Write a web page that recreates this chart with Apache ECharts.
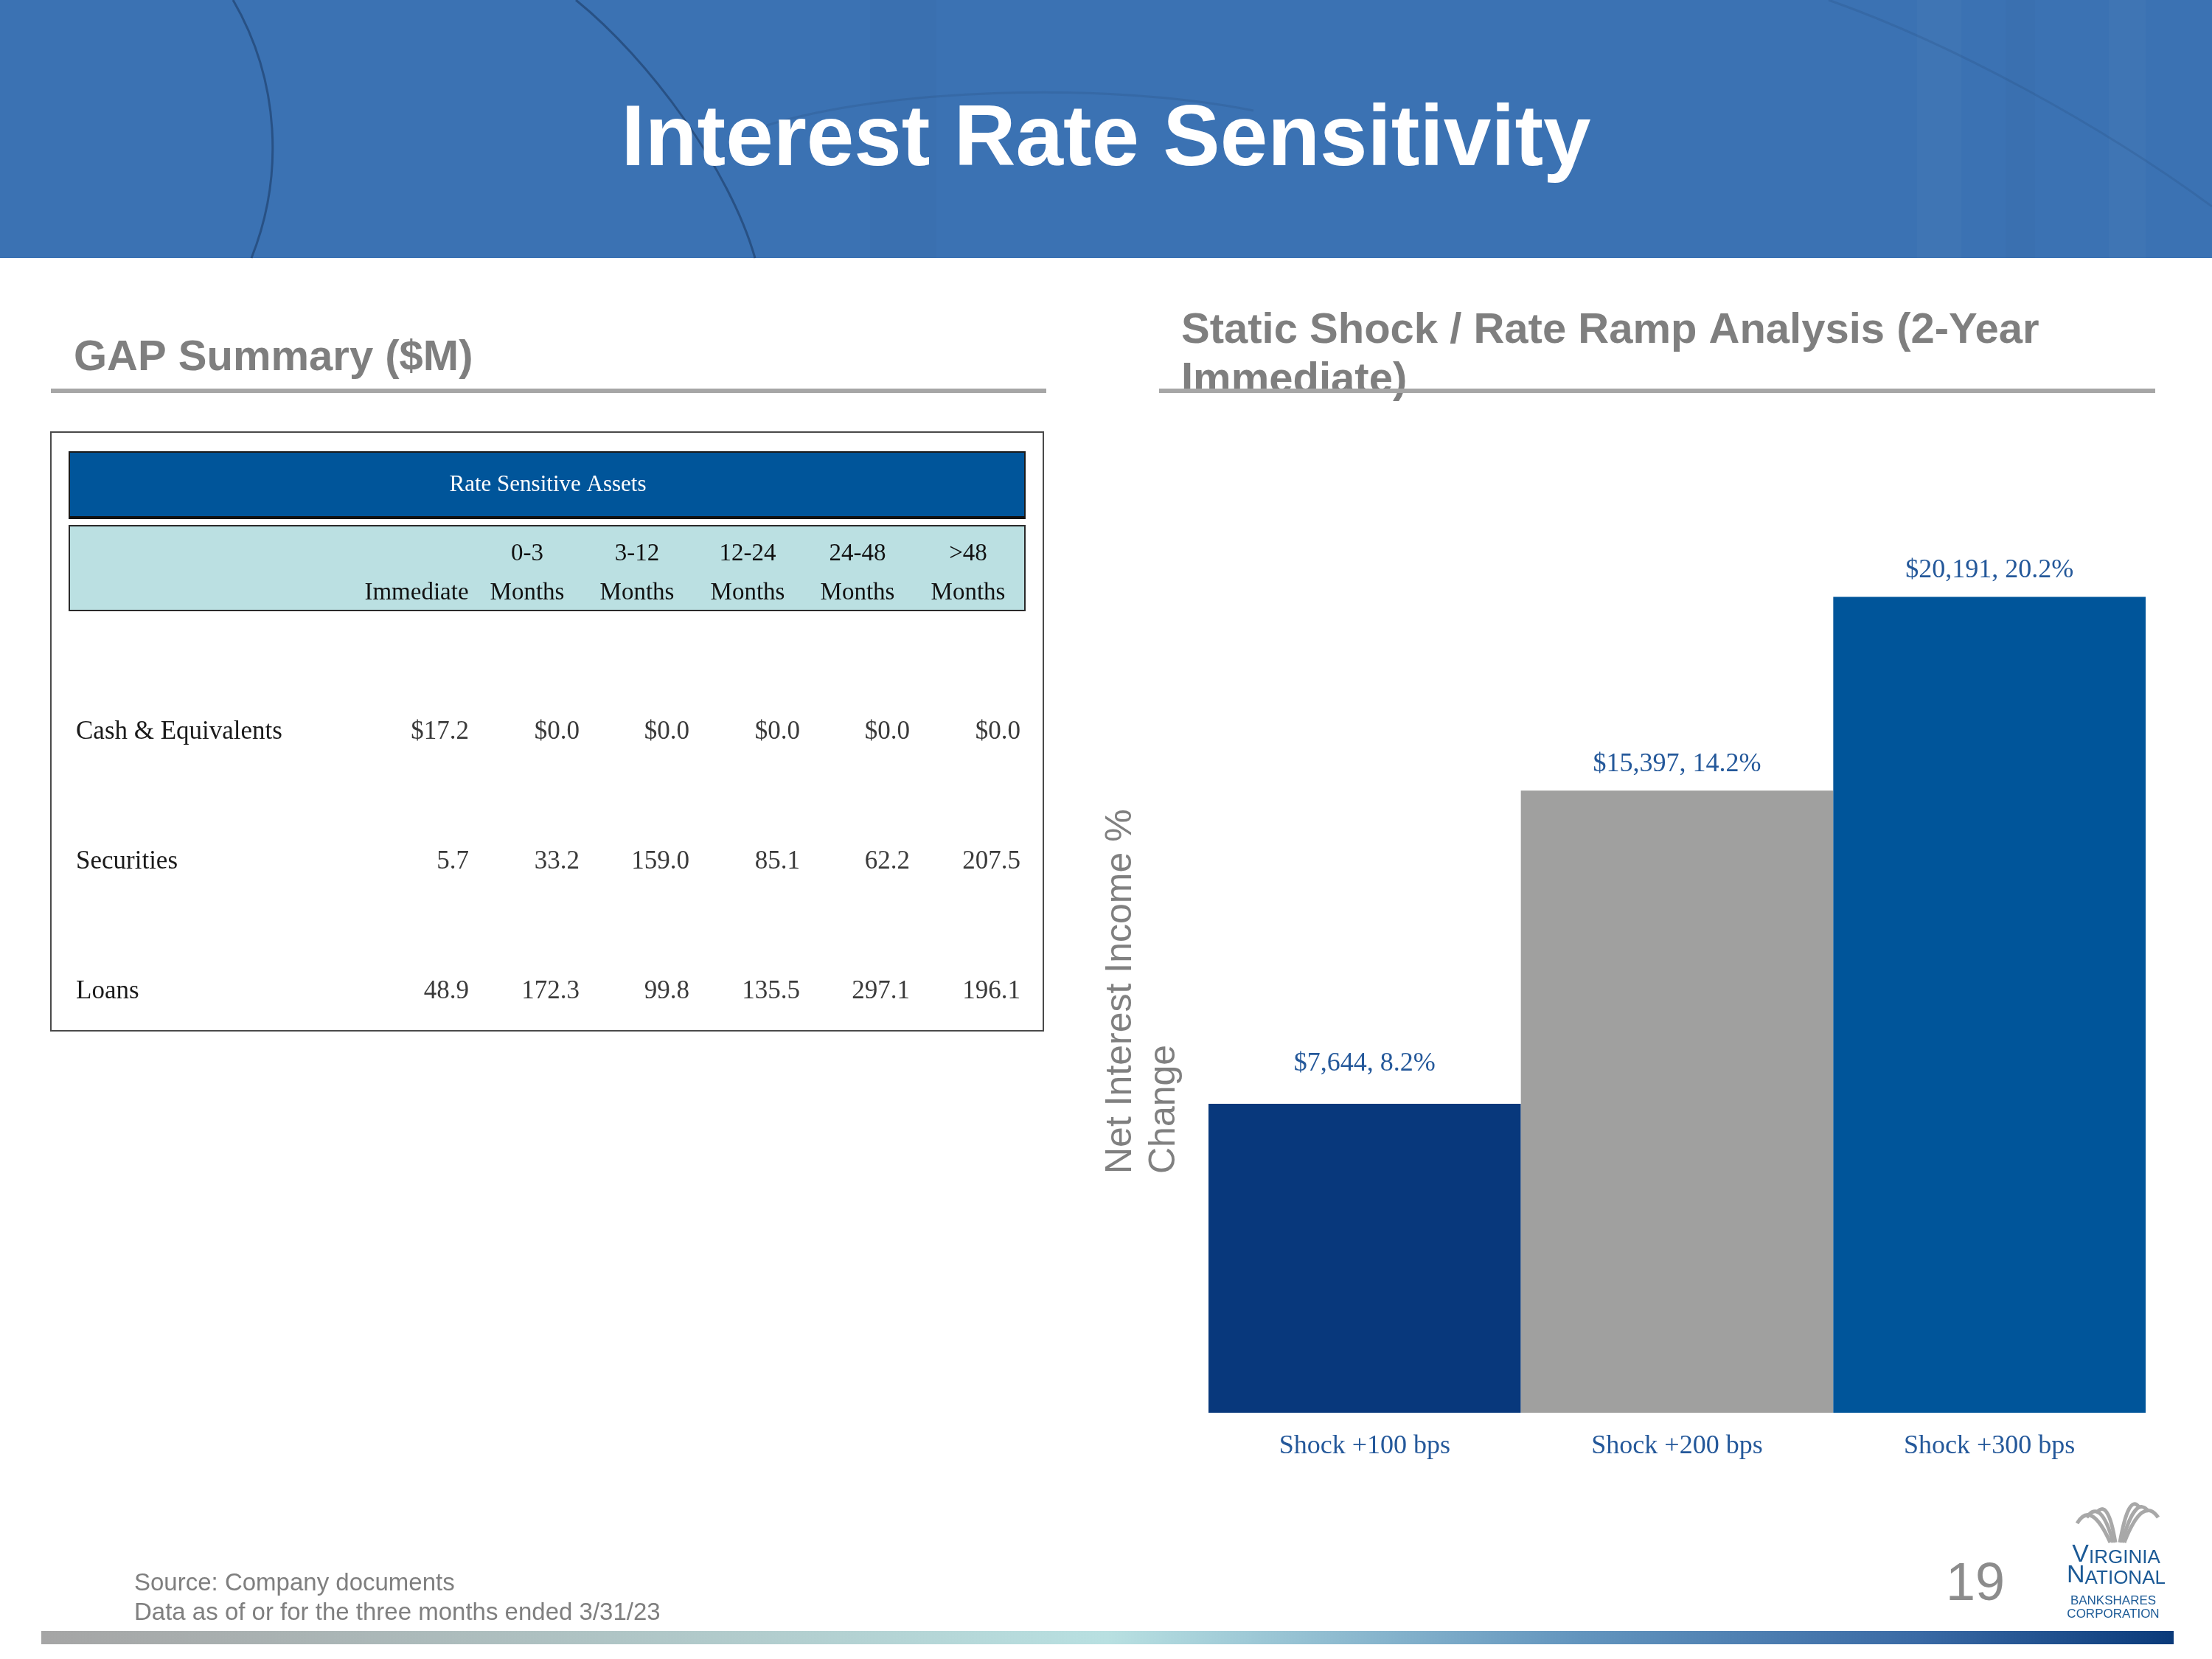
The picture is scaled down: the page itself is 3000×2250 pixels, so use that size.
<!DOCTYPE html>
<html>
<head>
<meta charset="utf-8">
<script src="https://cdn.jsdelivr.net/npm/echarts@6/dist/echarts.min.js"></script>
<style>
  html, body { margin: 0; background: #fff; }
  #chart { width: 3000px; height: 2250px; }
</style>
</head>
<body>
<div id="chart"></div>
<script>
// GAP summary ($M)
var gapTitle = 'Rate Sensitive Assets';
var bucketTop = ['', '0-3', '3-12', '12-24', '24-48', '>48'];
var bucketBottom = ['Immediate', 'Months', 'Months', 'Months', 'Months', 'Months'];
var rowNames = ['Cash & Equivalents', 'Securities', 'Loans'];
var cashValues = [17.2, 0.0, 0.0, 0.0, 0.0, 0.0];
var securitiesValues = [5.7, 33.2, 159.0, 85.1, 62.2, 207.5];
var loanValues = [48.9, 172.3, 99.8, 135.5, 297.1, 196.1];

// static shock / rate ramp
var shockNames = ['Shock +100 bps', 'Shock +200 bps', 'Shock +300 bps'];
var niiChange = [7644, 15397, 20191];
var niiChangePct = [8.2, 14.2, 20.2];

var SANS = 'Liberation Sans, Arial, sans-serif';
var SERIF = 'Liberation Serif, Times New Roman, serif';

// text placed by its baseline
function txt(x, base, s, size, color, opt) {
  opt = opt || {};
  return {
    type: 'text', x: x, y: base - 0.29 * size, z: opt.z || 10,
    style: {
      text: s, fontSize: size, fontFamily: opt.family || SANS,
      fontWeight: opt.weight || 'normal', fill: color,
      align: opt.align || 'left', verticalAlign: 'middle'
    }
  };
}

var g = [];

// header band
g.push({ type: 'rect', shape: { x: 0, y: 0, width: 3000, height: 350 }, style: { fill: '#3b72b3' }, z: 1 });
[[2600, 60], [2720, 40], [2860, 50], [1180, 90]].forEach(function (s, i) {
  g.push({ type: 'rect', shape: { x: s[0], y: 0, width: s[1], height: 350 },
    style: { fill: i % 2 ? 'rgba(20,50,100,0.03)' : 'rgba(255,255,255,0.025)' }, z: 2 });
});
[
  [316, 0, 380, 110, 385, 240, 341, 350],
  [781, 0, 880, 80, 990, 230, 1024, 350],
  [2480, 0, 2650, 60, 2850, 170, 3000, 280],
  [1040, 170, 1200, 120, 1500, 110, 1700, 150]
].forEach(function (c, i) {
  g.push({ type: 'bezierCurve',
    shape: { x1: c[0], y1: c[1], cpx1: c[2], cpy1: c[3], cpx2: c[4], cpy2: c[5], x2: c[6], y2: c[7] },
    style: { stroke: i < 2 ? 'rgba(25,55,95,0.55)' : 'rgba(25,55,95,0.15)', lineWidth: 3, fill: null }, z: 3 });
});
g.push(txt(1500, 226, 'Interest Rate Sensitivity', 116, '#ffffff', { weight: 'bold', align: 'center' }));

// section titles
g.push(txt(100, 503, 'GAP Summary ($M)', 58, '#7f7f7f', { weight: 'bold' }));
g.push(txt(1602, 466, 'Static Shock / Rate Ramp Analysis (2-Year', 58, '#7f7f7f', { weight: 'bold' }));
g.push(txt(1602, 533, 'Immediate)', 58, '#7f7f7f', { weight: 'bold' }));
g.push({ type: 'rect', shape: { x: 69, y: 527, width: 1350, height: 6 }, style: { fill: '#a6a6a6' }, z: 12 });
g.push({ type: 'rect', shape: { x: 1572, y: 527, width: 1351, height: 6 }, style: { fill: '#a6a6a6' }, z: 12 });

// GAP table
var colRight = [636, 786, 935, 1085, 1234, 1384];
var rowBase = [1003, 1179, 1355];
g.push({ type: 'rect', shape: { x: 69, y: 586, width: 1346, height: 812 }, style: { fill: '#fff', stroke: '#4a4a4a', lineWidth: 2 }, z: 4 });
g.push({ type: 'rect', shape: { x: 94, y: 613, width: 1296, height: 90 }, style: { fill: '#00559a', stroke: '#1a1a1a', lineWidth: 2 }, z: 5 });
g.push({ type: 'rect', shape: { x: 94, y: 700, width: 1296, height: 4 }, style: { fill: '#111' }, z: 6 });
g.push({ type: 'rect', shape: { x: 94, y: 713, width: 1296, height: 115 }, style: { fill: '#bbe0e2', stroke: '#2a2a2a', lineWidth: 2 }, z: 5 });
g.push({ type: 'text', x: 743, y: 658, z: 10,
  style: { text: gapTitle, fontSize: 31, fontFamily: SERIF, fill: '#fff', align: 'center', verticalAlign: 'middle' } });
bucketTop.forEach(function (s, i) {
  if (s) g.push(txt(colRight[i] - 71, 761, s, 33, '#111', { family: SERIF, align: 'center' }));
  g.push(txt(colRight[i] - 71, 814, bucketBottom[i], 33, '#111', { family: SERIF, align: 'center' }));
});
[cashValues, securitiesValues, loanValues].forEach(function (vals, r) {
  g.push(txt(103, rowBase[r], rowNames[r], 35, '#1a1a1a', { family: SERIF }));
  vals.forEach(function (v, i) {
    var s = (r === 0 ? '$' : '') + v.toFixed(1);
    g.push(txt(colRight[i], rowBase[r], s, 35, '#3a3a3a', { family: SERIF, align: 'right' }));
  });
});

// y axis name of the bar chart
g.push({ type: 'text', x: 1491, y: 1592, rotation: Math.PI / 2, z: 10,
  style: { text: 'Net Interest Income %\nChange', fontSize: 50, lineHeight: 59, fontFamily: SANS,
    fill: '#808080', align: 'left', verticalAlign: 'top' } });

// footer
g.push(txt(182, 2157, 'Source: Company documents', 33, '#7f7f7f'));
g.push(txt(182, 2197, 'Data as of or for the three months ended 3/31/23', 33, '#7f7f7f'));
g.push({ type: 'rect', shape: { x: 56, y: 2212, width: 2892, height: 18 }, z: 5,
  style: { fill: new echarts.graphic.LinearGradient(0, 0, 1, 0, [
    { offset: 0, color: '#a5a5a5' },
    { offset: 0.5, color: '#b8e0e1' },
    { offset: 0.72, color: '#6395be' },
    { offset: 0.88, color: '#3a6aa5' },
    { offset: 1, color: '#0a3a7a' }
  ]) } });
g.push(txt(2679, 2171, '19', 72, '#8c8c8c', { align: 'center' }));

// logo
[
  [2817, 2066, 2836, 2034, 2862, 2092],
  [2830, 2058, 2849, 2031, 2866, 2092],
  [2843, 2052, 2859, 2031, 2869, 2092],
  [2927, 2058, 2906, 2028, 2881, 2092],
  [2914, 2050, 2896, 2026, 2878, 2092],
  [2901, 2044, 2887, 2025, 2875, 2092]
].forEach(function (c) {
  g.push({ type: 'bezierCurve', shape: { x1: c[0], y1: c[1], cpx1: c[2], cpy1: c[3], x2: c[4], y2: c[5] },
    style: { stroke: '#a8a8a8', lineWidth: 5, fill: null }, z: 6 });
});
function logoWord(big, rest, base) {
  return { type: 'text', x: 2870, y: base - 13, z: 10,
    style: { text: '{a|' + big + '}{b|' + rest + '}', align: 'center', verticalAlign: 'middle',
      rich: {
        a: { fontSize: 34, lineHeight: 34, fontFamily: SANS, fill: '#1c5a96', verticalAlign: 'bottom' },
        b: { fontSize: 26, lineHeight: 34, fontFamily: SANS, fill: '#1c5a96', verticalAlign: 'bottom' }
      } } };
}
g.push(logoWord('V', 'IRGINIA', 2122));
g.push(logoWord('N', 'ATIONAL', 2150));
g.push(txt(2866, 2176, 'BANKSHARES', 17, '#1c5a96', { align: 'center' }));
g.push(txt(2866, 2194, 'CORPORATION', 17, '#1c5a96', { align: 'center' }));

var barColors = ['#08387c', '#a0a09f', '#00559a'];
var labelGap = [37, 18, 18];

var chart = echarts.init(document.getElementById('chart'));
chart.setOption({
  animation: false,
  backgroundColor: '#fff',
  graphic: g,
  grid: { left: 1639, right: 90, top: 546, bottom: 334 },
  xAxis: {
    type: 'category',
    data: shockNames,
    axisLine: { show: false },
    axisTick: { show: false },
    axisLabel: { margin: 28, fontSize: 36, fontFamily: SERIF, color: '#24589a' }
  },
  yAxis: {
    type: 'value', min: 0, max: 25000,
    axisLine: { show: false }, axisTick: { show: false },
    axisLabel: { show: false }, splitLine: { show: false }
  },
  series: [{
    type: 'bar',
    barCategoryGap: '0%',
    data: niiChange.map(function (v, i) {
      return {
        value: v,
        itemStyle: { color: barColors[i] },
        label: { distance: labelGap[i] }
      };
    }),
    label: {
      show: true, position: 'top',
      fontSize: 36, fontFamily: SERIF, color: '#24589a',
      formatter: function (p) {
        return '$' + p.value.toLocaleString('en-US') + ', ' + niiChangePct[p.dataIndex].toFixed(1) + '%';
      }
    }
  }]
});
</script>
</body>
</html>
